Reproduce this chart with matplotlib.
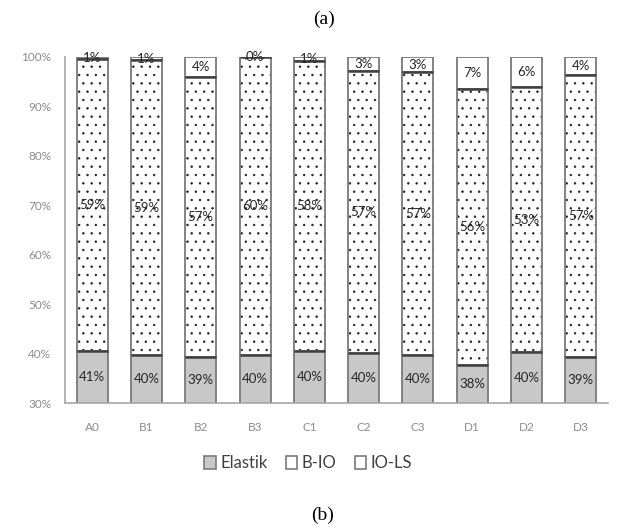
import matplotlib
matplotlib.use("Agg")
import matplotlib.pyplot as plt
import numpy as np
from matplotlib.patches import Patch

categories = ["A0", "B1", "B2", "B3", "C1", "C2", "C3", "D1", "D2", "D3"]
elastik = [40.6, 39.7, 39.4, 39.8, 40.5, 40.1, 39.7, 37.7, 40.3, 39.4]
b_io = [59.0, 59.6, 56.6, 60.2, 58.6, 57.0, 57.2, 55.9, 53.6, 57.0]
io_ls = [0.4, 0.7, 4.0, 0.0, 0.9, 2.9, 3.1, 6.4, 6.1, 3.6]
elastik_labels = ["41%", "40%", "39%", "40%", "40%", "40%", "40%", "38%", "40%", "39%"]
b_io_labels = ["59%", "59%", "57%", "60%", "58%", "57%", "57%", "56%", "53%", "57%"]
io_ls_labels = ["1%", "1%", "4%", "0%", "1%", "3%", "3%", "7%", "6%", "4%"]
yticks = [30, 40, 50, 60, 70, 80, 90, 100]
legend_labels = ["Elastik", "B-IO", "IO-LS"]

plt.rcParams["hatch.linewidth"] = 0.5
fig = plt.figure(figsize=(6.27, 5.29), dpi=100)
ax = fig.add_axes([65 / 627, 1 - 403 / 529, (608 - 65) / 627, (403 - 57) / 529])

x = np.arange(len(categories))
w = 0.57
e = np.array(elastik)
b = np.array(b_io)
t = np.array(io_ls)
edge = "#7a7a7a"
dark = "#404040"

ax.bar(x, e, width=w, color="#c8c8c8", edgecolor=edge, linewidth=1.3, zorder=2)
# dotted B-IO: hatch layer then outline
ax.bar(x, b, bottom=e, width=w, color="white", edgecolor="#202020", linewidth=0, hatch="..", zorder=2)
ax.bar(x, b, bottom=e, width=w, color="none", edgecolor=edge, linewidth=1.3, zorder=3)
ax.bar(x, t, bottom=e + b, width=w, color="white", edgecolor=edge, linewidth=1.3, zorder=2)
ax.hlines(e, x - w / 2, x + w / 2, color=dark, linewidth=1.8, zorder=4)
ax.hlines(e + b, x - w / 2, x + w / 2, color=dark, linewidth=1.8, zorder=4)

lab_font = dict(family="Lato", fontsize=9.5, color="#262626", ha="center", va="center", zorder=5)
ymin = 30
for i in range(len(categories)):
    ax.text(x[i], (ymin + e[i]) / 2, elastik_labels[i], **lab_font)
    ax.text(x[i], e[i] + b[i] / 2, b_io_labels[i], **lab_font)
    ax.text(x[i], e[i] + b[i] + t[i] / 2, io_ls_labels[i], **lab_font)

ax.set_xlim(-0.5, len(categories) - 0.5)
ax.set_ylim(30, 100)
ax.set_yticks(yticks)
ax.set_yticklabels([f"{v}%" for v in yticks])
ax.set_xticks(x)
ax.set_xticklabels(categories)
for lbl in ax.get_xticklabels() + ax.get_yticklabels():
    lbl.set_family("Lato")
    lbl.set_fontsize(8.5)
    lbl.set_color("#8c8c8c")
ax.tick_params(axis="both", length=0)
ax.tick_params(axis="y", pad=10)
ax.tick_params(axis="x", pad=14)
for s in ["top", "right"]:
    ax.spines[s].set_visible(False)
for s in ["left", "bottom"]:
    ax.spines[s].set_color("#a6a6a6")
    ax.spines[s].set_linewidth(1.2)

handles = [
    Patch(facecolor="#c8c8c8", edgecolor=edge, linewidth=1.2),
    Patch(facecolor="white", edgecolor=edge, linewidth=1.2, hatch="."),
    Patch(facecolor="white", edgecolor=edge, linewidth=1.2),
]
fig.legend(handles, legend_labels, loc="center", bbox_to_anchor=(308 / 627, 1 - 463 / 529),
           ncol=3, frameon=False, prop={"family": "Lato", "size": 12},
           handlelength=0.7, handleheight=0.85, handletextpad=0.25, columnspacing=1.1,
           labelcolor="#404040")

fig.text(324 / 627, 1 - 19 / 529, "(a)", family="Liberation Serif", fontsize=14,
         ha="center", va="center")
fig.text(323 / 627, 1 - 515 / 529, "(b)", family="Liberation Serif", fontsize=14,
         ha="center", va="center")

fig.savefig("out.png", dpi=100)
